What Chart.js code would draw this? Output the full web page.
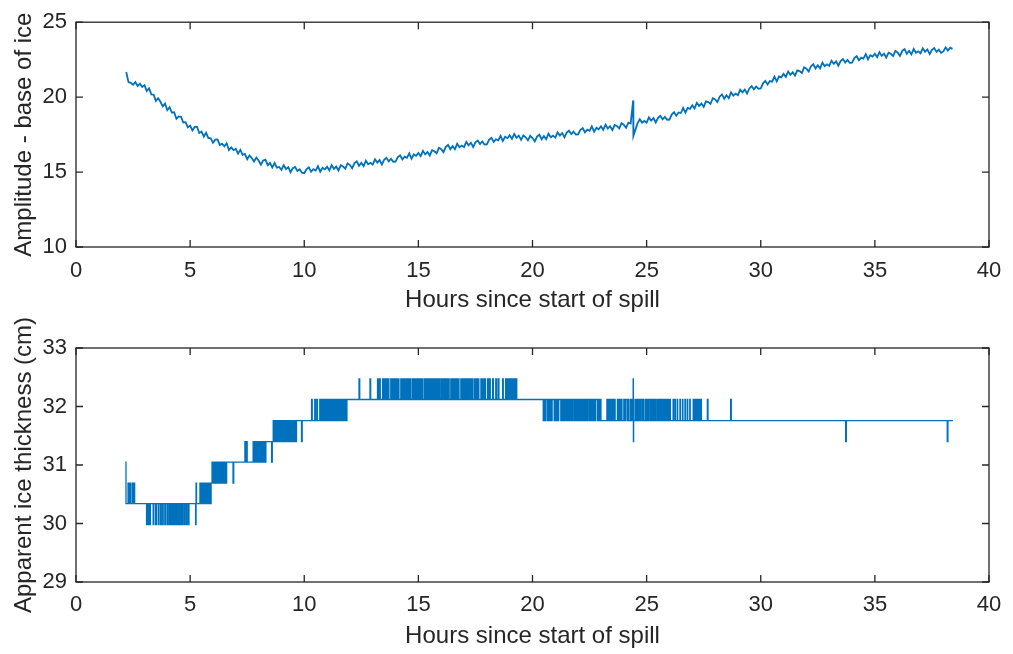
<!DOCTYPE html>
<html>
<head>
<meta charset="utf-8">
<script src="https://cdn.jsdelivr.net/npm/chart.js@4.4.1/dist/chart.umd.min.js"></script>
<style>
  html, body { margin: 0; padding: 0; background: #ffffff; }
  #wrap { position: relative; width: 1013px; height: 654px; overflow: hidden; }
  .panel { position: absolute; left: 0; width: 1013px; }
  #panelTop { top: 0; height: 327px; }
  #panelBottom { top: 300px; height: 354px; }
</style>
</head>
<body>
<div id="wrap">
  <div class="panel" id="panelTop"><canvas id="ampChart" width="1013" height="327"></canvas></div>
  <div class="panel" id="panelBottom"><canvas id="thickChart" width="1013" height="354"></canvas></div>
</div>
<script>
// Sample times (hours since start of spill) for the base-of-ice amplitude record
const ampHours = [
  2.2,2.3,2.4,2.5,2.6,2.7,2.8,2.9,
  3,3.1,3.2,3.3,3.4,3.5,3.6,3.7,3.8,3.9,
  4,4.1,4.2,4.3,4.4,4.5,4.6,4.7,4.8,4.9,
  5,5.1,5.2,5.3,5.4,5.5,5.6,5.7,5.8,5.9,
  6,6.1,6.2,6.3,6.4,6.5,6.6,6.7,6.8,6.9,
  7,7.1,7.2,7.3,7.4,7.5,7.6,7.7,7.8,7.9,
  8,8.1,8.2,8.3,8.4,8.5,8.6,8.7,8.8,8.9,
  9,9.1,9.2,9.3,9.4,9.5,9.6,9.7,9.8,9.9,
  10,10.1,10.2,10.3,10.4,10.5,10.6,10.7,10.8,10.9,
  11,11.1,11.2,11.3,11.4,11.5,11.6,11.7,11.8,11.9,
  12,12.1,12.2,12.3,12.4,12.5,12.6,12.7,12.8,12.9,
  13,13.1,13.2,13.3,13.4,13.5,13.6,13.7,13.8,13.9,
  14,14.1,14.2,14.3,14.4,14.5,14.6,14.7,14.8,14.9,
  15,15.1,15.2,15.3,15.4,15.5,15.6,15.7,15.8,15.9,
  16,16.1,16.2,16.3,16.4,16.5,16.6,16.7,16.8,16.9,
  17,17.1,17.2,17.3,17.4,17.5,17.6,17.7,17.8,17.9,
  18,18.1,18.2,18.3,18.4,18.5,18.6,18.7,18.8,18.9,
  19,19.1,19.2,19.3,19.4,19.5,19.6,19.7,19.8,19.9,
  20,20.1,20.2,20.3,20.4,20.5,20.6,20.7,20.8,20.9,
  21,21.1,21.2,21.3,21.4,21.5,21.6,21.7,21.8,21.9,
  22,22.1,22.2,22.3,22.4,22.5,22.6,22.7,22.8,22.9,
  23,23.1,23.2,23.3,23.4,23.5,23.6,23.7,23.8,23.9,
  24,24.1,24.2,24.3,24.41,24.42,24.6,24.7,24.8,24.9,
  25,25.1,25.2,25.3,25.4,25.5,25.6,25.7,25.8,25.9,
  26,26.1,26.2,26.3,26.4,26.5,26.6,26.7,26.8,26.9,
  27,27.1,27.2,27.3,27.4,27.5,27.6,27.7,27.8,27.9,
  28,28.1,28.2,28.3,28.4,28.5,28.6,28.7,28.8,28.9,
  29,29.1,29.2,29.3,29.4,29.5,29.6,29.7,29.8,29.9,
  30,30.1,30.2,30.3,30.4,30.5,30.6,30.7,30.8,30.9,
  31,31.1,31.2,31.3,31.4,31.5,31.6,31.7,31.8,31.9,
  32,32.1,32.2,32.3,32.4,32.5,32.6,32.7,32.8,32.9,
  33,33.1,33.2,33.3,33.4,33.5,33.6,33.7,33.8,33.9,
  34,34.1,34.2,34.3,34.4,34.5,34.6,34.7,34.8,34.9,
  35,35.1,35.2,35.3,35.4,35.5,35.6,35.7,35.8,35.9,
  36,36.1,36.2,36.3,36.4,36.5,36.6,36.7,36.8,36.9,
  37,37.1,37.2,37.3,37.4,37.5,37.6,37.7,37.8,37.9,
  38,38.1,38.2,38.3,38.4
];

// Reflection amplitude from the base of the ice
const ampValues = [
  21.68,21.0,20.95,20.82,21.0,20.74,20.9,20.68,
  20.8,20.41,20.59,20.18,20.17,19.75,19.93,19.69,19.38,19.57,
  19.13,19.33,18.97,18.99,18.55,18.71,18.69,18.31,18.33,17.99,
  18.1,17.78,18.01,18.02,17.61,17.7,17.37,17.62,17.27,17.26,
  16.95,17.16,17.18,16.81,16.89,16.72,16.92,16.47,16.65,16.46,
  16.55,16.23,16.48,16.15,16.21,15.86,16.11,15.94,15.71,15.97,
  15.77,15.5,15.77,15.83,15.46,15.6,15.31,15.61,15.3,15.34,
  15.15,15.46,15.2,15.33,14.99,15.26,15.34,15.07,15.19,14.96,
  14.92,15.2,15.31,15.02,15.19,15.1,15.39,15.02,15.29,15.18,
  15.35,15.12,15.46,15.22,15.37,15.11,15.45,15.37,15.23,15.58,
  15.47,15.26,15.6,15.72,15.42,15.62,15.4,15.76,15.52,15.62,
  15.5,15.85,15.64,15.8,15.51,15.82,15.95,15.72,15.88,15.69,
  15.7,16.0,16.12,15.85,16.03,15.95,16.25,15.89,16.18,16.08,
  16.27,16.06,16.41,16.18,16.34,16.1,16.46,16.39,16.26,16.62,
  16.53,16.33,16.68,16.81,16.52,16.73,16.52,16.89,16.66,16.77,
  16.66,17.01,16.79,16.96,16.67,16.98,17.1,16.87,17.04,16.84,
  16.85,17.16,17.28,17.01,17.19,17.12,17.42,17.07,17.35,17.26,
  17.45,17.22,17.55,17.29,17.43,17.15,17.45,17.32,17.12,17.42,
  17.27,17.04,17.37,17.49,17.19,17.4,17.19,17.56,17.33,17.43,
  17.3,17.65,17.44,17.61,17.32,17.63,17.76,17.53,17.7,17.51,
  17.52,17.82,17.94,17.65,17.83,17.75,18.05,17.69,17.96,17.86,
  18.05,17.82,18.16,17.91,18.06,17.8,18.14,18.06,17.91,18.26,
  18.15,17.95,18.3,18.24,19.78,17.42,18.25,18.52,18.3,18.41,
  18.3,18.65,18.44,18.6,18.31,18.62,18.75,18.52,18.68,18.49,
  18.5,18.84,19.0,18.76,18.98,18.94,19.28,18.96,19.28,19.22,
  19.45,19.25,19.62,19.4,19.58,19.35,19.72,19.67,19.55,19.93,
  19.85,19.67,20.03,20.18,19.9,20.13,19.93,20.32,20.1,20.23,
  20.13,20.5,20.32,20.51,20.24,20.58,20.73,20.52,20.71,20.55,
  20.58,20.92,21.08,20.85,21.07,21.03,21.37,21.05,21.38,21.32,
  21.55,21.35,21.71,21.49,21.66,21.43,21.79,21.74,21.61,21.99,
  21.9,21.71,22.06,22.2,21.91,22.13,21.92,22.3,22.07,22.19,
  22.08,22.43,22.22,22.39,22.1,22.41,22.54,22.31,22.48,22.29,
  22.3,22.61,22.73,22.46,22.64,22.57,22.87,22.52,22.8,22.71,
  22.9,22.67,23.0,22.75,22.9,22.64,22.97,22.89,22.74,23.08,
  22.97,22.75,23.09,23.2,22.89,23.09,22.86,23.21,22.96,23.06,
  22.93,23.26,23.03,23.18,22.87,23.16,23.27,23.02,23.17,22.96,
  23.05,23.32,23.11,23.3,23.22
];

// Times at which the picked ice thickness changes (hours since start of spill)
const thickHours = [
  2.16,2.19,2.28,2.31,2.36,2.39,2.46,2.49,2.54,2.57,
  3.09,3.12,3.16,3.19,3.23,3.26,3.38,3.41,3.49,3.52,
  3.6,3.63,3.7,3.73,3.79,3.82,3.89,3.92,3.99,4.02,
  4.08,4.11,4.14,4.18,4.21,4.25,4.28,4.32,4.35,4.39,
  4.42,4.46,4.49,4.53,4.56,4.6,4.63,4.66,4.72,4.75,
  4.81,4.84,4.9,4.95,5.24,5.26,5.28,
  5.43,5.47,5.5,5.54,5.57,5.61,5.64,5.68,5.71,5.75,
  5.78,5.82,5.85,5.89,5.92,
  5.96,6,6.04,6.08,6.12,6.16,6.2,6.24,6.28,6.32,
  6.36,6.4,6.44,6.48,6.52,6.56,6.6,6.88,6.91,
  7.4,7.43,7.47,7.5,7.76,7.8,7.84,7.88,7.92,7.96,
  8,8.04,8.08,8.12,8.16,8.2,8.24,8.28,8.32,8.57,8.6,
  8.64,8.67,8.71,8.74,8.78,8.81,8.86,8.9,8.94,8.98,
  9.02,9.06,9.1,9.14,9.18,9.22,9.26,9.3,9.34,9.38,
  9.42,9.46,9.5,9.54,9.58,9.62,9.66,9.88,9.91,
  10.32,10.35,10.46,10.49,10.55,10.58,10.68,10.72,10.76,10.8,
  10.84,10.88,10.92,10.96,11,11.04,11.08,11.12,11.16,11.2,
  11.24,11.28,11.32,11.36,11.4,11.44,11.48,11.52,11.56,11.6,
  11.64,11.68,11.72,11.76,11.8,11.84,11.87,
  12.4,12.43,12.88,12.91,
  13.21,13.25,13.29,13.33,13.43,13.47,13.51,13.55,13.59,13.63,
  13.67,13.71,13.79,13.83,13.87,13.91,13.95,13.99,14.03,14.07,
  14.11,14.15,14.23,14.27,14.31,14.35,14.39,14.43,14.47,14.51,
  14.55,14.59,14.63,14.67,14.74,14.78,14.82,14.86,14.9,14.94,
  14.98,15.02,15.06,15.1,15.14,15.18,15.25,15.29,15.33,15.37,
  15.41,15.45,15.49,15.53,15.57,15.61,15.65,15.69,15.73,15.77,
  15.81,15.85,15.89,15.93,15.99,16.03,16.07,16.11,16.15,16.19,
  16.23,16.27,16.31,16.35,16.42,16.46,16.5,16.54,16.58,16.62,
  16.66,16.7,16.74,16.78,16.86,16.9,16.94,16.98,17.02,17.06,
  17.1,17.14,17.18,17.22,17.26,17.3,17.34,17.38,17.45,17.49,
  17.53,17.57,17.61,17.65,17.74,17.78,17.82,17.86,17.9,17.94,
  18.03,18.07,18.11,18.15,18.25,18.29,18.39,18.43,18.5,18.53,
  18.69,18.72,18.82,18.85,18.88,18.92,18.96,19,19.04,19.08,
  19.12,19.16,19.2,19.24,19.28,19.31,
  20.47,20.51,20.55,20.59,20.66,20.7,20.74,20.78,20.82,20.86,
  20.95,20.99,21.03,21.07,21.11,21.15,21.24,21.28,21.32,21.36,
  21.4,21.44,21.48,21.52,21.56,21.6,21.64,21.68,21.72,21.76,
  21.82,21.86,21.9,21.94,21.98,22.02,22.06,22.1,22.14,22.18,
  22.22,22.26,22.3,22.34,22.38,22.42,22.48,22.52,22.56,22.6,
  22.64,22.68,22.72,22.76,22.84,22.88,22.92,22.96,23,23.26,
  23.3,23.34,23.38,23.42,23.46,23.5,23.54,23.58,23.62,23.72,
  23.76,23.8,23.84,23.88,23.92,24,24.04,24.08,24.15,24.19,
  24.23,24.3,24.34,24.38,24.41,24.42,24.43,24.49,24.53,24.57,
  24.61,24.65,24.69,24.73,24.79,24.83,24.88,24.95,24.99,25.03,
  25.07,25.11,25.17,25.21,25.25,25.29,25.33,25.37,25.41,25.47,
  25.51,25.55,25.59,25.63,25.67,25.71,25.75,25.79,25.83,25.87,
  25.91,25.95,25.99,26.02,26.04,26.16,26.18,26.24,26.26,26.34,
  26.36,26.46,26.48,26.57,26.59,26.68,26.7,26.78,26.8,26.89,
  26.91,27.04,27.08,27.12,27.16,27.2,27.24,27.28,27.32,27.36,
  27.4,27.66,27.69,28.68,28.71,33.72,33.75,38.17,38.2,38.42
];

// Apparent ice thickness (cm) held from each change time until the next one
const thickCm = [
  31.05,30.34,30.69,30.34,30.69,30.34,30.69,30.34,30.69,30.34,
  29.98,30.34,29.98,30.34,29.98,30.34,29.98,30.34,29.98,30.34,
  29.98,30.34,29.98,30.34,29.98,30.34,29.98,30.34,29.98,30.34,
  29.98,30.34,29.98,30.34,29.98,30.34,29.98,30.34,29.98,30.34,
  29.98,30.34,29.98,30.34,29.98,30.34,29.98,30.34,29.98,30.34,
  29.98,30.34,29.98,30.34,29.98,30.69,30.34,
  30.69,30.34,30.69,30.34,30.69,30.34,30.69,30.34,30.69,30.34,
  30.69,30.34,30.69,30.34,30.69,
  31.05,30.69,31.05,30.69,31.05,30.69,31.05,30.69,31.05,30.69,
  31.05,30.69,31.05,30.69,31.05,30.69,31.05,30.69,31.05,
  31.4,31.05,31.4,31.05,31.4,31.05,31.4,31.05,31.4,31.05,
  31.4,31.05,31.4,31.05,31.4,31.05,31.4,31.05,31.4,31.05,31.4,
  31.76,31.4,31.76,31.4,31.76,31.4,31.76,31.4,31.76,31.4,
  31.76,31.4,31.76,31.4,31.76,31.4,31.76,31.4,31.76,31.4,
  31.76,31.4,31.76,31.4,31.76,31.4,31.76,31.4,31.76,
  32.12,31.76,32.12,31.76,32.12,31.76,32.12,31.76,32.12,31.76,
  32.12,31.76,32.12,31.76,32.12,31.76,32.12,31.76,32.12,31.76,
  32.12,31.76,32.12,31.76,32.12,31.76,32.12,31.76,32.12,31.76,
  32.12,31.76,32.12,31.76,32.12,31.76,32.12,
  32.47,32.12,32.47,32.12,
  32.47,32.12,32.47,32.12,32.47,32.12,32.47,32.12,32.47,32.12,
  32.47,32.12,32.47,32.12,32.47,32.12,32.47,32.12,32.47,32.12,
  32.47,32.12,32.47,32.12,32.47,32.12,32.47,32.12,32.47,32.12,
  32.47,32.12,32.47,32.12,32.47,32.12,32.47,32.12,32.47,32.12,
  32.47,32.12,32.47,32.12,32.47,32.12,32.47,32.12,32.47,32.12,
  32.47,32.12,32.47,32.12,32.47,32.12,32.47,32.12,32.47,32.12,
  32.47,32.12,32.47,32.12,32.47,32.12,32.47,32.12,32.47,32.12,
  32.47,32.12,32.47,32.12,32.47,32.12,32.47,32.12,32.47,32.12,
  32.47,32.12,32.47,32.12,32.47,32.12,32.47,32.12,32.47,32.12,
  32.47,32.12,32.47,32.12,32.47,32.12,32.47,32.12,32.47,32.12,
  32.47,32.12,32.47,32.12,32.47,32.12,32.47,32.12,32.47,32.12,
  32.47,32.12,32.47,32.12,32.47,32.12,32.47,32.12,32.47,32.12,
  32.47,32.12,32.47,32.12,32.47,32.12,32.47,32.12,32.47,32.12,
  32.47,32.12,32.47,32.12,32.47,32.12,
  31.76,32.12,31.76,32.12,31.76,32.12,31.76,32.12,31.76,32.12,
  31.76,32.12,31.76,32.12,31.76,32.12,31.76,32.12,31.76,32.12,
  31.76,32.12,31.76,32.12,31.76,32.12,31.76,32.12,31.76,32.12,
  31.76,32.12,31.76,32.12,31.76,32.12,31.76,32.12,31.76,32.12,
  31.76,32.12,31.76,32.12,31.76,32.12,31.76,32.12,31.76,32.12,
  31.76,32.12,31.76,32.12,31.76,32.12,31.76,32.12,31.76,32.12,
  31.76,32.12,31.76,32.12,31.76,32.12,31.76,32.12,31.76,32.12,
  31.76,32.12,31.76,32.12,31.76,32.12,31.76,32.12,31.76,32.12,
  31.76,32.12,31.76,32.12,32.47,31.4,31.76,32.12,31.76,32.12,
  31.76,32.12,31.76,32.12,31.76,32.12,31.76,32.12,31.76,32.12,
  31.76,32.12,31.76,32.12,31.76,32.12,31.76,32.12,31.76,32.12,
  31.76,32.12,31.76,32.12,31.76,32.12,31.76,32.12,31.76,32.12,
  31.76,32.12,31.76,32.12,31.76,32.12,31.76,32.12,31.76,32.12,
  31.76,32.12,31.76,32.12,31.76,32.12,31.76,32.12,31.76,32.12,
  31.76,32.12,31.76,32.12,31.76,32.12,31.76,32.12,31.76,32.12,
  31.76,32.12,31.76,32.12,31.76,31.4,31.76,31.4,31.76,31.76
];

const xTicksHours = [0, 5, 10, 15, 20, 25, 30, 35, 40];
const ampTicks = [10, 15, 20, 25];
const thickTicks = [29, 30, 31, 32, 33];

const X_TITLE = 'Hours since start of spill';
const AMP_TITLE = 'Amplitude - base of ice';
const THICK_TITLE = 'Apparent ice thickness (cm)';

const INK = '#262626';
const LINE_BLUE = '#0072BD';
const FONT = '"Liberation Sans", Arial, Helvetica, sans-serif';
const TICK_SIZE = 22;
const TITLE_SIZE = 24;

// Box around the plot area with inward tick marks on all four sides
const boxAxesPlugin = {
  id: 'boxAxes',
  afterDatasetsDraw(chart) {
    const { ctx, chartArea: a, scales } = chart;
    const len = 7;
    ctx.save();
    ctx.strokeStyle = INK;
    ctx.lineWidth = 1.3;
    ctx.beginPath();
    scales.x.ticks.forEach(t => {
      const px = scales.x.getPixelForValue(t.value);
      ctx.moveTo(px, a.bottom); ctx.lineTo(px, a.bottom - len);
      ctx.moveTo(px, a.top); ctx.lineTo(px, a.top + len);
    });
    scales.y.ticks.forEach(t => {
      const py = scales.y.getPixelForValue(t.value);
      ctx.moveTo(a.left, py); ctx.lineTo(a.left + len, py);
      ctx.moveTo(a.right, py); ctx.lineTo(a.right - len, py);
    });
    ctx.stroke();
    ctx.strokeRect(a.left, a.top, a.right - a.left, a.bottom - a.top);
    ctx.restore();
  }
};

function xAxis(tickPad, titlePad, height) {
  return {
    type: 'linear', min: 0, max: 40,
    afterBuildTicks(s) { s.ticks = xTicksHours.map(v => ({ value: v })); },
    ticks: { padding: tickPad, color: INK, font: { family: FONT, size: TICK_SIZE }, maxRotation: 0, autoSkip: false },
    grid: { display: false, drawTicks: false },
    border: { display: false },
    title: { display: true, text: X_TITLE, color: INK, font: { family: FONT, size: TITLE_SIZE }, padding: { top: 0, bottom: titlePad } },
    afterFit(s) { s.height = height; }
  };
}

function yAxis(min, max, tickValues, titleText) {
  return {
    type: 'linear', min: min, max: max,
    afterBuildTicks(s) { s.ticks = tickValues.map(v => ({ value: v })); },
    ticks: { padding: 9, color: INK, font: { family: FONT, size: TICK_SIZE }, autoSkip: false },
    grid: { display: false, drawTicks: false },
    border: { display: false },
    title: { display: true, text: titleText, color: INK, font: { family: FONT, size: TITLE_SIZE }, padding: { top: 10, bottom: 0 } },
    afterFit(s) { s.width = 76; }
  };
}

function baseOptions(padTop, xAx, yAx) {
  return {
    responsive: false,
    animation: false,
    devicePixelRatio: 1,
    layout: { padding: { top: padTop, right: 24, bottom: 0, left: 0 } },
    plugins: { legend: { display: false }, tooltip: { enabled: false } },
    elements: { point: { radius: 0 } },
    scales: { x: xAx, y: yAx }
  };
}

new Chart(document.getElementById('ampChart'), {
  type: 'line',
  data: {
    datasets: [{
      data: ampHours.map((h, i) => ({ x: h, y: ampValues[i] })),
      borderColor: LINE_BLUE,
      borderWidth: 1.8,
      tension: 0,
      pointRadius: 0,
      fill: false
    }]
  },
  options: baseOptions(14, xAxis(10.4, 12.6, 80), yAxis(10, 25, ampTicks, AMP_TITLE)),
  plugins: [boxAxesPlugin]
});

new Chart(document.getElementById('thickChart'), {
  type: 'line',
  data: {
    datasets: [{
      data: thickHours.map((h, i) => ({ x: h, y: thickCm[i] })),
      borderColor: LINE_BLUE,
      borderWidth: 1.3,
      stepped: true,
      pointRadius: 0,
      fill: false
    }]
  },
  options: baseOptions(48, xAxis(9.9, 3.6, 72), yAxis(29, 33, thickTicks, THICK_TITLE)),
  plugins: [boxAxesPlugin]
});
</script>
</body>
</html>
